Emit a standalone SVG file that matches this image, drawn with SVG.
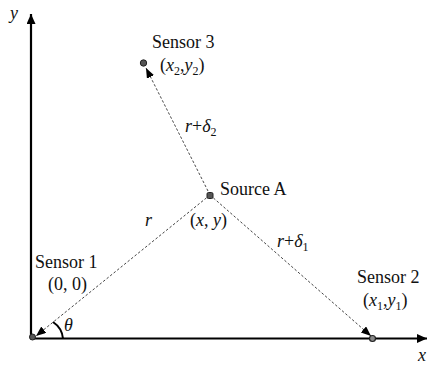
<svg xmlns="http://www.w3.org/2000/svg" width="429" height="365" viewBox="0 0 429 365">
<style>
text{font-size:18px;fill:#111}
.i{font-style:italic}
.sub{font-size:12px}
.dash{stroke:#444;stroke-width:1;stroke-dasharray:2.5 2;fill:none}
.axis{stroke:#000;stroke-width:2.2;fill:none}
.dot{fill:#555;stroke:#222;stroke-width:1}
</style>
<defs>
<marker id="ah" markerUnits="userSpaceOnUse" markerWidth="12" markerHeight="10" refX="10" refY="4" orient="auto">
<path d="M0,0 L10,4 L0,8 Z" fill="#000"/>
</marker>
<marker id="ax" markerUnits="userSpaceOnUse" markerWidth="12" markerHeight="10" refX="10" refY="4.5" orient="auto">
<path d="M0,0 L10,4.5 L0,9 Z" fill="#000"/>
</marker>
</defs>
<g font-family="'Liberation Serif', 'DejaVu Serif', serif">
<g id="axes">
<line class="axis" x1="31" y1="339" x2="31" y2="14" marker-end="url(#ax)"/>
<line class="axis" x1="30" y1="338.5" x2="427" y2="338.5" marker-end="url(#ax)"/>
<text class="i" x="10" y="19">y</text>
<text class="i" x="418" y="361">x</text>
<path d="M63,338.5 Q62,328 53,322" fill="none" stroke="#000" stroke-width="2"/>
<text class="i" x="64" y="331">θ</text>
</g>
<g id="connectors">
<line class="dash" x1="210" y1="195" x2="146" y2="68" marker-end="url(#ah)"/>
<line class="dash" x1="210" y1="195" x2="36" y2="336" marker-end="url(#ah)"/>
<line class="dash" x1="210" y1="195" x2="371" y2="336" marker-end="url(#ah)"/>
<text x="185" y="132"><tspan class="i">r</tspan>+<tspan class="i">δ</tspan><tspan class="sub" dy="4">2</tspan></text>
<text class="i" x="145" y="226">r</text>
<text x="277" y="247"><tspan class="i">r</tspan>+<tspan class="i">δ</tspan><tspan class="sub" dy="4">1</tspan></text>
</g>
<g id="sourceA">
<rect class="dot" x="207" y="192.5" width="6" height="6" rx="1.5"/>
<text x="220" y="195">Source A</text>
<text x="190" y="226">(<tspan class="i">x</tspan>, <tspan class="i">y</tspan>)</text>
</g>
<g id="sensor1">
<circle class="dot" cx="32.5" cy="337" r="3"/>
<text x="35" y="268">Sensor 1</text>
<text x="48" y="290">(0, 0)</text>
</g>
<g id="sensor2">
<circle cx="372.5" cy="338.5" r="3" fill="#888" stroke="#222" stroke-width="1.2"/>
<text x="357" y="283">Sensor 2</text>
<text x="363" y="306">(<tspan class="i">x</tspan><tspan class="sub" dy="4">1</tspan><tspan dy="-4">,</tspan><tspan class="i">y</tspan><tspan class="sub" dy="4">1</tspan><tspan dy="-4">)</tspan></text>
</g>
<g id="sensor3">
<circle class="dot" cx="143.5" cy="63" r="3.2"/>
<text x="152" y="48">Sensor 3</text>
<text x="160" y="71">(<tspan class="i">x</tspan><tspan class="sub" dy="4">2</tspan><tspan dy="-4">,</tspan><tspan class="i">y</tspan><tspan class="sub" dy="4">2</tspan><tspan dy="-4">)</tspan></text>
</g>
</g>
</svg>
